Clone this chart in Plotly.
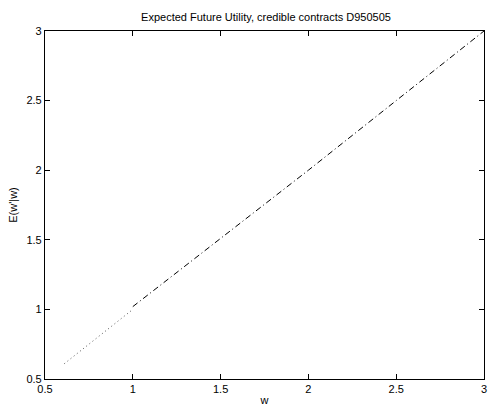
import plotly.graph_objects as go

# Expected future utility E(w'|w) against current promised utility w
w_low = [0.61, 0.8, 1.0]
e_low = [0.61, 0.8, 1.0]
w_high = [1.0, 1.5, 2.0, 2.5, 3.0]
e_high = [1.02, 1.51, 2.0, 2.5, 3.0]

x_ticks = [0.5, 1, 1.5, 2, 2.5, 3]
y_ticks = [0.5, 1, 1.5, 2, 2.5, 3]
tick_text = ["0.5", "1", "1.5", "2", "2.5", "3"]

font = dict(family="Liberation Sans, Arial, Helvetica, sans-serif", size=11, color="black")

fig = go.Figure()
fig.add_trace(go.Scatter(x=w_low, y=e_low, mode="lines",
                         line=dict(color="#555555", width=1, dash="1px,3px"),
                         showlegend=False))
fig.add_trace(go.Scatter(x=w_high, y=e_high, mode="lines",
                         line=dict(color="black", width=1, dash="6px,3px,1px,3px"),
                         showlegend=False))

axis_common = dict(
    showgrid=False, zeroline=False, showline=True, linecolor="black", linewidth=1.2,
    mirror="ticks", ticks="inside", ticklen=5, tickcolor="black", tickfont=font,
    ticklabeloverflow="allow",
)
fig.update_xaxes(range=[0.5, 3], tickvals=x_ticks, ticktext=tick_text,
                 title=dict(text="w", font=font, standoff=2), **axis_common)
fig.update_yaxes(range=[0.5, 3], tickvals=y_ticks, ticktext=tick_text,
                 title=dict(text="E(w'|w)", font=font, standoff=6), **axis_common)

fig.update_layout(
    width=490, height=409,
    margin=dict(l=45, r=3, t=31, b=30),
    paper_bgcolor="white", plot_bgcolor="white",
    font=font,
    title=dict(text="Expected Future Utility, credible contracts D950505",
               x=266 / 490, xanchor="center", y=1 - 17 / 409, yanchor="middle",
               font=dict(family=font["family"], size=11, color="black")),
)

fig.write_html("out.html")
